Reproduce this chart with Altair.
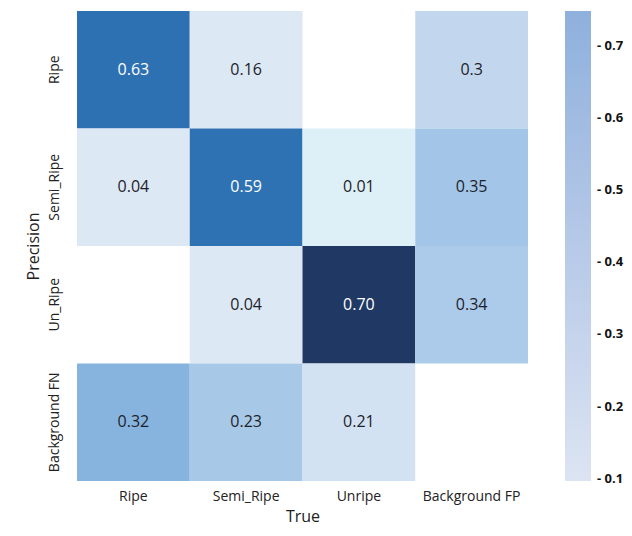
import altair as alt
import pandas as pd

rows = ["Ripe", "Semi_Ripe", "Un_Ripe", "Background FN"]
cols = ["Ripe", "Semi_Ripe", "Unripe", "Background FP"]
values = [
    [0.63, 0.16, None, 0.30],
    [0.04, 0.59, 0.01, 0.35],
    [None, 0.04, 0.70, 0.34],
    [0.32, 0.23, 0.21, None],
]
labels = [
    ["0.63", "0.16", "", "0.3"],
    ["0.04", "0.59", "0.01", "0.35"],
    ["", "0.04", "0.70", "0.34"],
    ["0.32", "0.23", "0.21", ""],
]
legend_ticks = [0.1, 0.2, 0.3, 0.4, 0.5, 0.6, 0.7]

recs = []
for i, r in enumerate(rows):
    for j, c in enumerate(cols):
        v = values[i][j]
        if v is None:
            continue
        recs.append({"pred": r, "true": c, "v": v, "label": labels[i][j]})
df = pd.DataFrame(recs)

FONT = "Open Sans"

cell_domain = [0.01, 0.04, 0.16, 0.21, 0.23, 0.30, 0.32, 0.34, 0.35, 0.59, 0.63, 0.70]
cell_range = ["#def0f7", "#dde8f5", "#dde8f5", "#d3e2f3", "#a7c8e7", "#c2d7ee",
              "#86b4df", "#accbea", "#a3c5e8", "#2e72b4", "#2e71b3", "#1f3864"]

H = 470

x = alt.X("true:N", sort=cols, title="True",
          scale=alt.Scale(paddingInner=0, paddingOuter=0),
          axis=alt.Axis(labelAngle=0, labelPadding=8, titlePadding=5, domain=False, ticks=False,
                        labelFontSize=14, titleFontSize=16, labelFont=FONT, titleFont=FONT,
                        labelColor="#222222", titleColor="#222222", titleFontWeight="normal"))
y = alt.Y("pred:N", sort=rows, title="Precision",
          scale=alt.Scale(paddingInner=0, paddingOuter=0),
          axis=alt.Axis(labelAngle=270, labelPadding=16, titlePadding=6, domain=False, ticks=False,
                        labelFontSize=14, titleFontSize=16, labelFont=FONT, titleFont=FONT,
                        labelColor="#222222", titleColor="#222222", titleFontWeight="normal",
                        labelAlign="center", labelBaseline="bottom"))

heat = alt.Chart(df).mark_rect().encode(
    x=x, y=y,
    color=alt.Color("v:Q", scale=alt.Scale(domain=cell_domain, range=cell_range), legend=None),
)

bar = alt.Chart(df).mark_rect(opacity=0).encode(
    x=x, y=y,
    fill=alt.Fill("v:Q",
                  scale=alt.Scale(domain=[0.097, 0.748], range=["#dce4f3", "#8eb0dc"]),
                  legend=alt.Legend(orient="none", legendX=488, legendY=0, title=None,
                                    direction="vertical", gradientLength=H,
                                    gradientThickness=26, gradientStrokeWidth=0,
                                    values=legend_ticks, labelExpr="'- ' + datum.label",
                                    labelFontWeight="bold", labelFontSize=13, labelFont=FONT,
                                    labelColor="#111111", labelOffset=6, padding=0)),
)

text = alt.Chart(df).mark_text(fontSize=16, font=FONT).encode(
    x=x, y=y,
    text="label:N",
    color=alt.condition("datum.v > 0.5", alt.value("#ffffff"), alt.value("#1e1e2a")),
)

chart = alt.layer(heat, bar, text).resolve_scale(color="independent").properties(
    width=451, height=H,
    padding={"left": 17, "top": 3, "right": 0, "bottom": 2},
).configure_view(stroke=None)

chart.save("out.html", embed_options={"renderer": "svg", "actions": False})
